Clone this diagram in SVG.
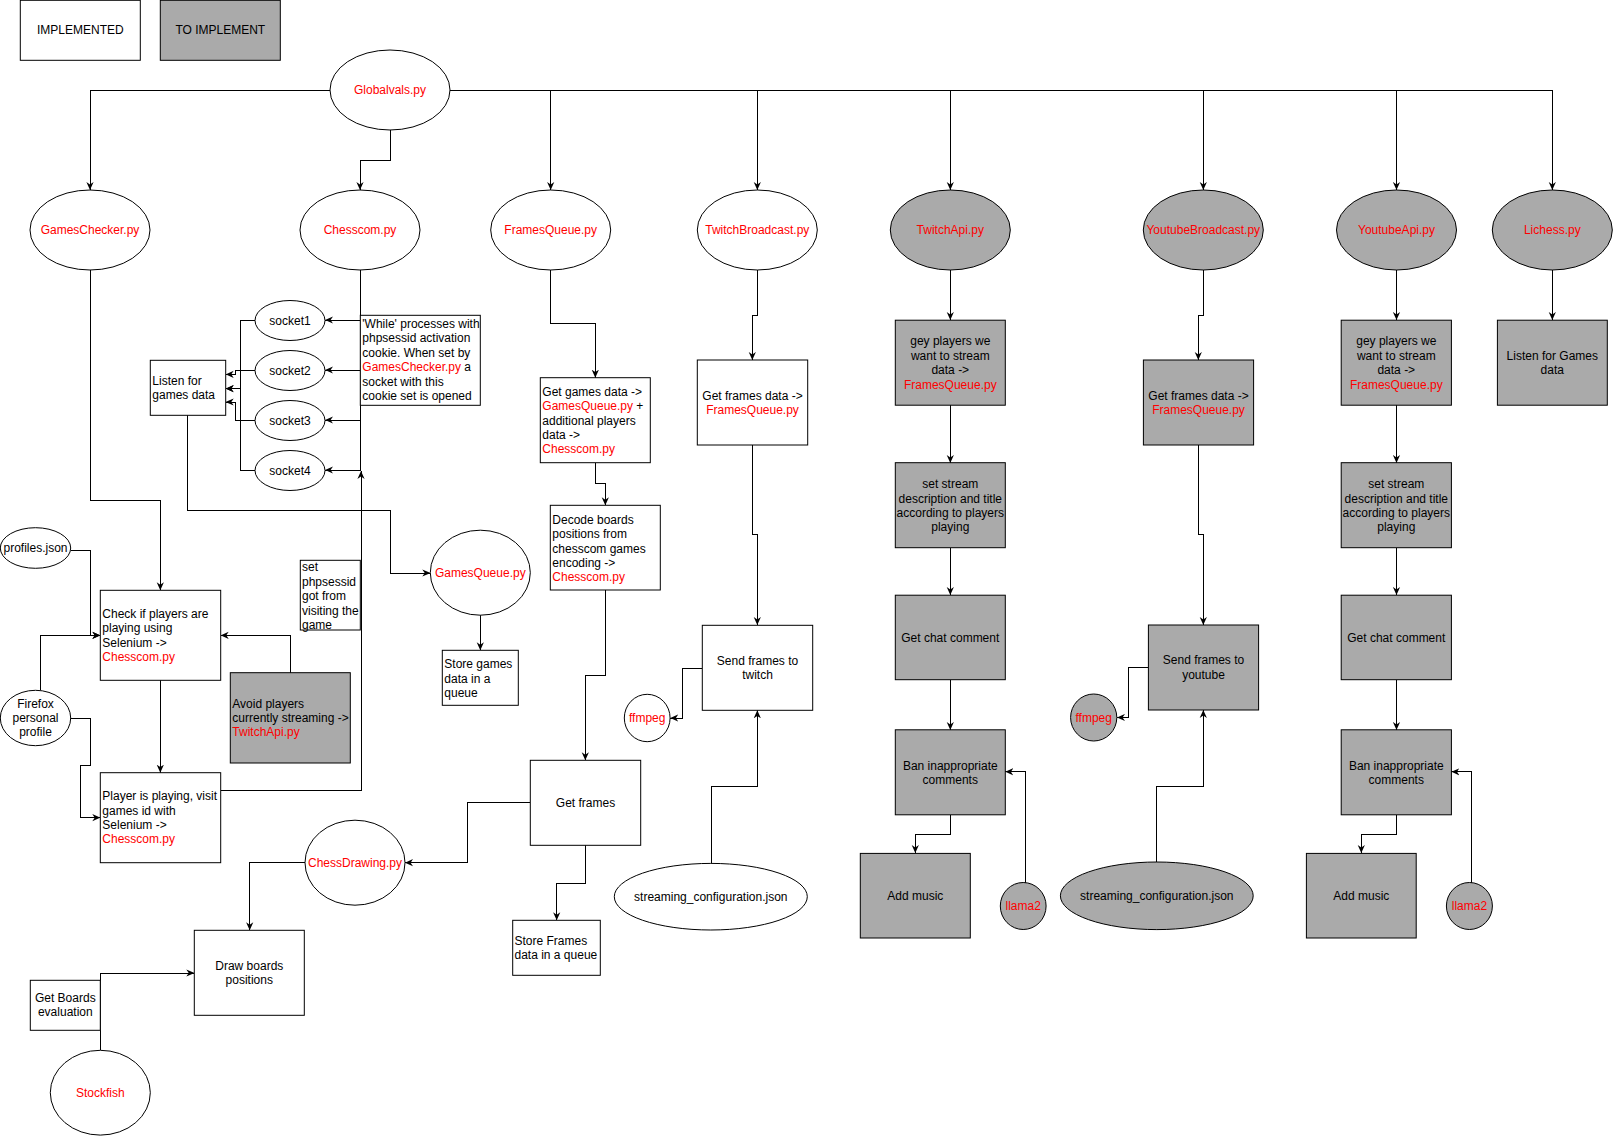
<svg xmlns="http://www.w3.org/2000/svg" width="1613" height="1136" viewBox="0 0 1613 1136">
<style>
.n{fill:#fff;stroke:#000;stroke-width:1}
.g{fill:#aaa;stroke:#000;stroke-width:1}
.e{fill:none;stroke:#000;stroke-width:1;shape-rendering:crispEdges}
text{font-family:"Liberation Sans",Arial,Helvetica,sans-serif;font-size:12px;fill:#000}
.c{text-anchor:middle}
.r{fill:#f00}
</style>
<defs>
<marker id="a" viewBox="0 0 10 10" refX="10" refY="5" markerWidth="8" markerHeight="8" markerUnits="userSpaceOnUse" orient="auto">
<path d="M0,0.5 L10,5 L0,9.5 L3,5 z" fill="#000" style="shape-rendering:auto"/>
</marker>
</defs>
<rect width="1613" height="1136" fill="#fff"/>

<g id="connectors" class="e" marker-end="url(#a)">
<path d="M330,90 H90 V190"/>
<path d="M390,130 V160 H360 V190"/>
<path d="M450,90 H550.7 V190"/>
<path d="M450,90 H757.3 V190"/>
<path d="M450,90 H950.3 V190"/>
<path d="M450,90 H1203.3 V190"/>
<path d="M450,90 H1396.5 V190"/>
<path d="M450,90 H1552.3 V190"/>
<path d="M360,270 V320 H325"/>
<path d="M360,270 V370 H325"/>
<path d="M360,270 V420 H325"/>
<path d="M360,270 V470 H325"/>
<path d="M255,320 H240.7 V388.7 H225.7"/>
<path d="M255,370 H235.7 V374.3 H225.7"/>
<path d="M255,420 H235.7 V402 H225.7"/>
<path d="M255,470 H240.7 V388.7 H225.7"/>
<path d="M187.7,415.3 V510.3 H390 V573 H430.3"/>
<path d="M90,270 V500 H160.3 V590.3"/>
<path d="M70.7,550.3 H90.3 V635.3 H100.3"/>
<path d="M40.3,690.3 V635.3 H100.3"/>
<path d="M70.7,718 H90.3 V765.3 H80.3 V817.7 H100.3"/>
<path d="M290.3,672.7 V635.3 H220.7"/>
<path d="M160.3,680.3 V772.7"/>
<path d="M220.7,790 H361 V471"/>
<path d="M480.3,615 V650.3"/>
<path d="M550.7,270 V323.7 H595.3 V377.7"/>
<path d="M595.3,462.7 V483.7 H605.3 V505.3"/>
<path d="M605.3,590 V675.3 H585.3 V760.3"/>
<path d="M530.3,802.7 H467.7 V862.7 H405"/>
<path d="M585.3,845.3 V883 H556.7 V920.3"/>
<path d="M305,862.3 H249.7 V930.3"/>
<path d="M100.3,1050.3 V973 H194.3"/>
<path d="M757.3,270 V315.6 H752.3 V360"/>
<path d="M752.3,445 V534.6 H757.3 V625"/>
<path d="M702.3,668 H682.7 V718 H670.3"/>
<path d="M711,863.3 V786.3 H757.3 V710.3"/>
<path d="M950.3,270 V320"/>
<path d="M950.3,405 V463"/>
<path d="M950.3,548 V595"/>
<path d="M950.3,680 V730"/>
<path d="M950.3,815 V834.5 H915.3 V853"/>
<path d="M1025.3,883 V771.8 H1005.3"/>
<path d="M1203.3,270 V315.6 H1198.3 V360"/>
<path d="M1198.3,445 V534.6 H1203.3 V625"/>
<path d="M1148.4,667.5 H1128.3 V717.5 H1117"/>
<path d="M1156.6,862 V786.5 H1203.3 V710"/>
<path d="M1396.5,270 V320"/>
<path d="M1396.5,405 V463"/>
<path d="M1396.5,548 V595"/>
<path d="M1396.5,680 V730"/>
<path d="M1396.5,815 V834.5 H1361.3 V853"/>
<path d="M1471.2,883 V771.8 H1451.4"/>
<path d="M1552.3,270 V320"/>
</g>

<g id="legend-implemented"><rect class="n" x="20.3" y="0.3" width="120" height="60"/><text class="c" x="80.3" y="34.3">IMPLEMENTED</text></g>
<g id="legend-to-implement"><rect class="g" x="160.3" y="0.3" width="120" height="60"/><text class="c" x="220.3" y="34.3">TO IMPLEMENT</text></g>

<g id="globalvals"><ellipse class="n" cx="390" cy="90" rx="60" ry="40"/><text class="c r" x="390" y="94.3">Globalvals.py</text></g>
<g id="gameschecker"><ellipse class="n" cx="90" cy="230" rx="60" ry="40"/><text class="c r" x="90" y="234.3">GamesChecker.py</text></g>
<g id="chesscom"><ellipse class="n" cx="360" cy="230" rx="60" ry="40"/><text class="c r" x="360" y="234.3">Chesscom.py</text></g>
<g id="framesqueue"><ellipse class="n" cx="550.7" cy="230" rx="60" ry="40"/><text class="c r" x="550.7" y="234.3">FramesQueue.py</text></g>
<g id="twitchbroadcast"><ellipse class="n" cx="757.3" cy="230" rx="60" ry="40"/><text class="c r" x="757.3" y="234.3">TwitchBroadcast.py</text></g>
<g id="twitchapi"><ellipse class="g" cx="950.3" cy="230" rx="60" ry="40"/><text class="c r" x="950.3" y="234.3">TwitchApi.py</text></g>
<g id="youtubebroadcast"><ellipse class="g" cx="1203.3" cy="230" rx="60" ry="40"/><text class="c r" x="1203.3" y="234.3">YoutubeBroadcast.py</text></g>
<g id="youtubeapi"><ellipse class="g" cx="1396.5" cy="230" rx="60" ry="40"/><text class="c r" x="1396.5" y="234.3">YoutubeApi.py</text></g>
<g id="lichess"><ellipse class="g" cx="1552.3" cy="230" rx="60" ry="40"/><text class="c r" x="1552.3" y="234.3">Lichess.py</text></g>

<g id="socket1"><ellipse class="n" cx="290" cy="320.5" rx="35" ry="20"/><text class="c" x="290" y="324.8">socket1</text></g>
<g id="socket2"><ellipse class="n" cx="290" cy="370.5" rx="35" ry="20"/><text class="c" x="290" y="374.8">socket2</text></g>
<g id="socket3"><ellipse class="n" cx="290" cy="420.5" rx="35" ry="20"/><text class="c" x="290" y="424.8">socket3</text></g>
<g id="socket4"><ellipse class="n" cx="290" cy="470.5" rx="35" ry="20"/><text class="c" x="290" y="474.8">socket4</text></g>

<g id="while-note"><rect class="n" x="360.3" y="315.3" width="120" height="90"/>
<text x="362.3"><tspan x="362.3" y="328">'While' processes with</tspan><tspan x="362.3" y="342.4">phpsessid activation</tspan><tspan x="362.3" y="356.8">cookie. When set by</tspan><tspan x="362.3" y="371.2"><tspan class="r">GamesChecker.py</tspan> a</tspan><tspan x="362.3" y="385.6">socket with this</tspan><tspan x="362.3" y="400">cookie set is opened</tspan></text></g>

<g id="listen"><rect class="n" x="150.3" y="360.3" width="75.4" height="55"/>
<text><tspan x="152.3" y="384.6">Listen for</tspan><tspan x="152.3" y="399">games data</tspan></text></g>

<g id="gamesqueue"><ellipse class="n" cx="480.3" cy="572.7" rx="50" ry="42.5"/><text class="c r" x="480.3" y="577">GamesQueue.py</text></g>

<g id="store-games"><rect class="n" x="442.3" y="650.3" width="76" height="55"/>
<text><tspan x="444.3" y="668.2">Store games</tspan><tspan x="444.3" y="682.6">data in a</tspan><tspan x="444.3" y="697">queue</tspan></text></g>

<g id="profiles"><ellipse class="n" cx="35.5" cy="548" rx="35.2" ry="20.3"/><text class="c" x="35.5" y="552.3">profiles.json</text></g>

<g id="check-players"><rect class="n" x="100.3" y="590.3" width="120.4" height="90"/>
<text><tspan x="102.3" y="617.7">Check if players are</tspan><tspan x="102.3" y="632.1">playing using</tspan><tspan x="102.3" y="646.5">Selenium -&gt;</tspan><tspan class="r" x="102.3" y="660.9">Chesscom.py</tspan></text></g>

<g id="firefox"><ellipse class="n" cx="35.5" cy="718" rx="35.2" ry="27.7"/>
<text class="c"><tspan x="35.5" y="707.6">Firefox</tspan><tspan x="35.5" y="722">personal</tspan><tspan x="35.5" y="736.4">profile</tspan></text></g>

<g id="avoid"><rect class="g" x="230.3" y="672.7" width="120" height="90.3"/>
<text><tspan x="232.3" y="707.6">Avoid players</tspan><tspan x="232.3" y="722">currently streaming -&gt;</tspan><tspan class="r" x="232.3" y="736.4">TwitchApi.py</tspan></text></g>

<g id="player-playing"><rect class="n" x="100.3" y="772.7" width="120.4" height="90"/>
<text><tspan x="102.3" y="800.2">Player is playing, visit</tspan><tspan x="102.3" y="814.6">games id with</tspan><tspan x="102.3" y="829">Selenium -&gt;</tspan><tspan class="r" x="102.3" y="843.4">Chesscom.py</tspan></text></g>

<g id="set-phpsessid"><rect class="n" x="300.3" y="560.3" width="60" height="69.7"/>
<text><tspan x="302" y="571.3">set</tspan><tspan x="302" y="585.7">phpsessid</tspan><tspan x="302" y="600.1">got from</tspan><tspan x="302" y="614.5">visiting the</tspan><tspan x="302" y="628.9">game</tspan></text></g>

<g id="get-games"><rect class="n" x="540.3" y="377.7" width="110" height="85"/>
<text><tspan x="542.3" y="395.8">Get games data -&gt;</tspan><tspan x="542.3" y="410.2"><tspan class="r">GamesQueue.py</tspan> +</tspan><tspan x="542.3" y="424.6">additional players</tspan><tspan x="542.3" y="439">data -&gt;</tspan><tspan class="r" x="542.3" y="453.4">Chesscom.py</tspan></text></g>

<g id="decode"><rect class="n" x="550.3" y="505.3" width="110" height="84.7"/>
<text><tspan x="552.3" y="523.8">Decode boards</tspan><tspan x="552.3" y="538.2">positions from</tspan><tspan x="552.3" y="552.6">chesscom games</tspan><tspan x="552.3" y="567">encoding -&gt;</tspan><tspan class="r" x="552.3" y="581.4">Chesscom.py</tspan></text></g>

<g id="get-frames"><rect class="n" x="530.3" y="760.3" width="110.4" height="85"/><text class="c" x="585.5" y="807">Get frames</text></g>

<g id="chessdrawing"><ellipse class="n" cx="355" cy="862.7" rx="50" ry="42.5"/><text class="c r" x="355" y="867">ChessDrawing.py</text></g>

<g id="store-frames"><rect class="n" x="512.7" y="920.3" width="87.6" height="55"/>
<text><tspan x="514.5" y="945">Store Frames</tspan><tspan x="514.5" y="959.4">data in a queue</tspan></text></g>

<g id="draw-boards"><rect class="n" x="194.3" y="930.3" width="110" height="85"/>
<text class="c"><tspan x="249.3" y="970">Draw boards</tspan><tspan x="249.3" y="984.4">positions</tspan></text></g>

<g id="get-boards-eval"><rect class="n" x="30.3" y="980.3" width="70" height="50"/>
<text class="c"><tspan x="65.3" y="1001.8">Get Boards</tspan><tspan x="65.3" y="1016.2">evaluation</tspan></text></g>

<g id="stockfish"><ellipse class="n" cx="100.3" cy="1092.7" rx="50" ry="42.4"/><text class="c r" x="100.3" y="1097">Stockfish</text></g>

<g id="twitch-get-frames"><rect class="n" x="697.3" y="360" width="110.4" height="85"/>
<text class="c"><tspan x="752.5" y="399.6">Get frames data -&gt;</tspan><tspan class="r" x="752.5" y="414">FramesQueue.py</tspan></text></g>

<g id="twitch-send"><rect class="n" x="702.3" y="625.3" width="110.4" height="85"/>
<text class="c"><tspan x="757.5" y="664.6">Send frames to</tspan><tspan x="757.5" y="679">twitch</tspan></text></g>

<g id="twitch-ffmpeg"><ellipse class="n" cx="647.2" cy="718" rx="22.9" ry="23.7"/><text class="c r" x="647.2" y="722.3">ffmpeg</text></g>

<g id="twitch-streaming-config"><ellipse class="n" cx="710.8" cy="896.7" rx="96.5" ry="33.3"/><text class="c" x="710.8" y="901">streaming_configuration.json</text></g>

<g id="twitchapi-get-players"><rect class="g" x="895.3" y="320.2" width="110" height="85"/>
<text class="c"><tspan x="950.3" y="345.3">gey players we</tspan><tspan x="950.3" y="359.7">want to stream</tspan><tspan x="950.3" y="374.1">data -&gt;</tspan><tspan class="r" x="950.3" y="388.5">FramesQueue.py</tspan></text></g>
<g id="twitchapi-set-stream"><rect class="g" x="895.3" y="462.7" width="110" height="85"/>
<text class="c"><tspan x="950.3" y="488.2">set stream</tspan><tspan x="950.3" y="502.6">description and title</tspan><tspan x="950.3" y="517">according to players</tspan><tspan x="950.3" y="531.4">playing</tspan></text></g>
<g id="twitchapi-get-chat"><rect class="g" x="895.3" y="595.2" width="110" height="84.5"/><text class="c" x="950.3" y="641.8">Get chat comment</text></g>
<g id="twitchapi-ban"><rect class="g" x="895.3" y="729.8" width="110" height="85"/>
<text class="c"><tspan x="950.3" y="769.5">Ban inappropriate</tspan><tspan x="950.3" y="783.9">comments</tspan></text></g>
<g id="twitchapi-add-music"><rect class="g" x="860.3" y="853.4" width="110" height="84.6"/><text class="c" x="915.3" y="900">Add music</text></g>
<g id="twitchapi-llama2"><ellipse class="g" cx="1023.2" cy="906" rx="22.9" ry="23.5"/><text class="c r" x="1023.2" y="910.3">llama2</text></g>

<g id="youtube-get-frames"><rect class="g" x="1143.4" y="360" width="110.2" height="85"/>
<text class="c"><tspan x="1198.5" y="399.6">Get frames data -&gt;</tspan><tspan class="r" x="1198.5" y="414">FramesQueue.py</tspan></text></g>
<g id="youtube-send"><rect class="g" x="1148.4" y="625" width="110.2" height="85"/>
<text class="c"><tspan x="1203.5" y="664.3">Send frames to</tspan><tspan x="1203.5" y="678.7">youtube</tspan></text></g>
<g id="youtube-ffmpeg"><ellipse class="g" cx="1093.7" cy="717.5" rx="23.1" ry="23.5"/><text class="c r" x="1093.7" y="721.8">ffmpeg</text></g>
<g id="youtube-streaming-config"><ellipse class="g" cx="1156.8" cy="895.8" rx="96.4" ry="33.8"/><text class="c" x="1156.8" y="900.1">streaming_configuration.json</text></g>

<g id="youtubeapi-get-players"><rect class="g" x="1341.2" y="320.2" width="110.2" height="85"/>
<text class="c"><tspan x="1396.3" y="345.3">gey players we</tspan><tspan x="1396.3" y="359.7">want to stream</tspan><tspan x="1396.3" y="374.1">data -&gt;</tspan><tspan class="r" x="1396.3" y="388.5">FramesQueue.py</tspan></text></g>
<g id="youtubeapi-set-stream"><rect class="g" x="1341.2" y="462.7" width="110.2" height="85"/>
<text class="c"><tspan x="1396.3" y="488.2">set stream</tspan><tspan x="1396.3" y="502.6">description and title</tspan><tspan x="1396.3" y="517">according to players</tspan><tspan x="1396.3" y="531.4">playing</tspan></text></g>
<g id="youtubeapi-get-chat"><rect class="g" x="1341.2" y="595.2" width="110.2" height="84.5"/><text class="c" x="1396.3" y="641.8">Get chat comment</text></g>
<g id="youtubeapi-ban"><rect class="g" x="1341.2" y="729.8" width="110.2" height="85"/>
<text class="c"><tspan x="1396.3" y="769.5">Ban inappropriate</tspan><tspan x="1396.3" y="783.9">comments</tspan></text></g>
<g id="youtubeapi-add-music"><rect class="g" x="1306.4" y="853.4" width="109.8" height="84.6"/><text class="c" x="1361.3" y="900">Add music</text></g>
<g id="youtubeapi-llama2"><ellipse class="g" cx="1469.4" cy="906" rx="23" ry="23.5"/><text class="c r" x="1469.4" y="910.3">llama2</text></g>

<g id="lichess-listen"><rect class="g" x="1497.4" y="320.2" width="109.9" height="85"/>
<text class="c"><tspan x="1552.3" y="359.5">Listen for Games</tspan><tspan x="1552.3" y="373.9">data</tspan></text></g>
</svg>
